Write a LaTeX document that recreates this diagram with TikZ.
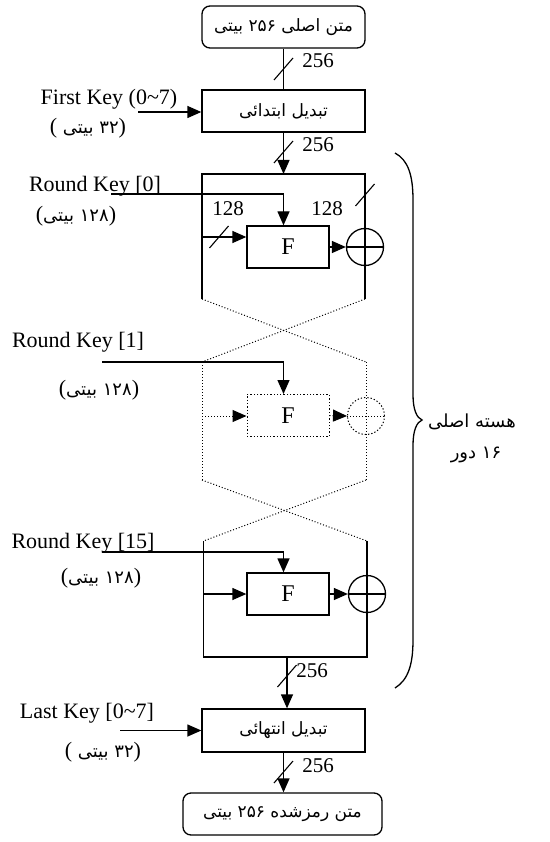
\documentclass[tikz,border=0pt]{standalone}
\usepackage{fontspec}
\setmainfont{Liberation Serif}
\newfontfamily\fafont[Script=Arabic]{DejaVu Sans}
\TeXXeTstate=1
\usetikzlibrary{arrows.meta}
\newcommand\fat[1]{{\fontsize{17}{20}\fafont\beginR #1\endR}}
\newcommand\fap[1]{{\fontsize{18}{21}\fafont\beginR #1\endR}}
\newcommand\fatb[1]{{\fontsize{18}{21}\fafont\beginR #1\endR}}
\begin{document}
\begin{tikzpicture}[x=1pt,y=-1pt,
  ln/.style={line width=1.3pt},
  arr/.style={line width=1.3pt,-{Triangle[length=14pt,width=12pt]}},
  box/.style={draw,line width=1.3pt,minimum width=163pt,minimum height=42pt,inner sep=0pt},
  rbox/.style={box,rounded corners=8pt},
  fbox/.style={draw,line width=1.3pt,minimum width=82pt,minimum height=42pt,inner sep=0pt,font=\fontsize{24}{28}\selectfont},
  xor/.style={draw,circle,line width=1.3pt,minimum size=37pt,inner sep=0pt},
  dot/.style={dotted,line width=1pt},
  darr/.style={dotted,line width=1pt,-{Triangle[length=14pt,width=12pt]}},
  lat/.style={font=\fontsize{22}{26}\selectfont,inner sep=0pt},
  num/.style={font=\fontsize{21}{25}\selectfont,inner sep=0pt,anchor=base},
  slashd/.style={line width=1.1pt}
]
\useasboundingbox (0,0) rectangle (549,842);
\newcommand\slashat[1]{\draw[slashd] ([shift={(-9.5,11)}]#1) -- ([shift={(9.5,-11)}]#1);}

% top and initial transform
\node[rbox] (top) at (283.5,27) {\fat{متن اصلی ۲۵۶ بیتی}};
\node[box] (init) at (283.5,111) {\fat{تبدیل ابتدائی}};
\draw[ln] (top) -- (init);
\coordinate (s1) at (283.5,69); \slashat{s1}
\node[num] (n1) at (318,68) {256};

\node[lat,anchor=base] (fk) at (109,105) {First Key (0\textasciitilde 7)};
\node[lat] (fkb) at (88,128) {( \fap{۳۲ بیتی})};
\coordinate (fks) at (138,112);
\draw[arr] (fks) -- (fks -| init.west);

% round 0
\coordinate (r0t) at (283.5,174);
\coordinate (r0tl) at (202,174);
\coordinate (r0tr) at (365,174);
\coordinate (r0bl) at (202,299);
\coordinate (r0br) at (365,299);
\draw[arr] (init) -- (r0t);
\coordinate (s2) at (283.5,152); \slashat{s2}
\node[num] (n2) at (318,152) {256};
\draw[ln] (r0bl) -- (r0tl) -- (r0tr) -- (r0br);
\coordinate (s3) at (365,195); \slashat{s3}
\node[fbox] (F0) at (288,247) {F};
\node[xor] (X0) at (365,247) {};
\draw[ln] (X0.west) -- (X0.east);
\draw[arr] (F0.east) -- (X0.west);
\coordinate (l0) at (202,237);
\draw[arr] (l0) -- (l0 -| F0.west);
\coordinate (s4) at (219,237); \slashat{s4}
\node[num] (n3) at (228,215) {128};
\node[num] (n4) at (327,215) {128};
\node[lat,anchor=base] (k0) at (95,192) {Round Key [0]};
\node[lat] (k0b) at (76,216) {(\fap{۱۲۸ بیتی})};
\coordinate (k0s) at (111,194);
\draw[arr] (k0s) -- (k0s -| r0t) -- (r0t |- F0.north);

% round 1 (dotted)
\coordinate (r1tl) at (202,362);
\coordinate (r1tr) at (366,362);
\coordinate (r1bl) at (202,480);
\coordinate (r1br) at (366,480);
\draw[dot] (r0bl) -- (r1tr);
\draw[dot] (r0br) -- (r1tl);
\draw[dot] (r1tl) -- (r1bl);
\draw[dot] (r1tr) -- (r1br);
\node[fbox,dotted,line width=1pt] (F1) at (288,415.5) {F};
\node[xor,dotted,line width=1pt] (X1) at (366,416) {};
\draw[dot] (X1.west) -- (X1.east);
\draw[darr] (F1.east) -- (X1.west);
\coordinate (l1) at (202,416);
\draw[darr] (l1) -- (l1 -| F1.west);
\node[lat,anchor=base] (k1) at (78,347) {Round Key [1]};
\node[lat] (k1b) at (99,390) {(\fap{۱۲۸ بیتی})};
\coordinate (k1s) at (102,362);
\draw[arr] (k1s) -- (k1s -| r0t) -- (r0t |- F1.north);

% round 15
\coordinate (r15tl) at (203.5,541);
\coordinate (r15tr) at (367,541);
\coordinate (r15bl) at (203.5,657);
\coordinate (r15br) at (367,657);
\draw[dot] (r1bl) -- (r15tr);
\draw[dot] (r1br) -- (r15tl);
\draw[ln] (r15tl) -- (r15bl) -- (r15br) -- (r15tr);
\node[fbox] (F15) at (288,594) {F};
\node[xor] (X15) at (367,594) {};
\draw[ln] (X15.west) -- (X15.east);
\draw[arr] (F15.east) -- (X15.west);
\coordinate (l15) at (203.5,594);
\draw[arr] (l15) -- (l15 -| F15.west);
\node[lat,anchor=base] (k15) at (83,548) {Round Key [15]};
\node[lat] (k15b) at (101,578) {(\fap{۱۲۸ بیتی})};
\coordinate (k15s) at (102,552);
\draw[arr] (k15s) -- (k15s -| r0t) -- (r0t |- F15.north);

% final transform and output
\node[box,minimum height=43pt] (fin) at (283.5,730.5) {\fat{تبدیل انتهائی}};
\coordinate (r15b) at (287,657);
\draw[arr] (r15b) -- (r15b |- fin.north);
\coordinate (s5) at (287,676); \slashat{s5}
\node[num] (n5) at (312,677) {256};
\node[lat,anchor=base] (lk) at (87,718) {Last Key [0\textasciitilde 7]};
\node[lat] (lkb) at (103,752) {( \fap{۳۲ بیتی})};
\coordinate (lks) at (120,730.5);
\draw[arr] (lks) -- (fin.west);
\node[rbox,minimum width=199pt] (out) at (282.5,814) {\fat{متن رمزشده ۲۵۶ بیتی}};
\draw[arr] (fin.south) -- (fin.south |- out.north);
\coordinate (s6) at (283.5,772); \slashat{s6}
\node[num] (n6) at (318,772) {256};

% brace
\draw[line width=1.3pt] (395,153) .. controls (408,160) and (413,175) .. (413,200)
  -- (413,395) .. controls (413,410) and (417,418) .. (422,420)
  .. controls (417,422) and (413,430) .. (413,445)
  -- (413,640) .. controls (413,665) and (408,680) .. (395,688);
\node[inner sep=0pt] (core) at (472,422) {\fatb{هسته اصلی}};
\node[inner sep=0pt] (rounds) at (476,455) {\fatb{۱۶ دور}};
\end{tikzpicture}
\end{document}
